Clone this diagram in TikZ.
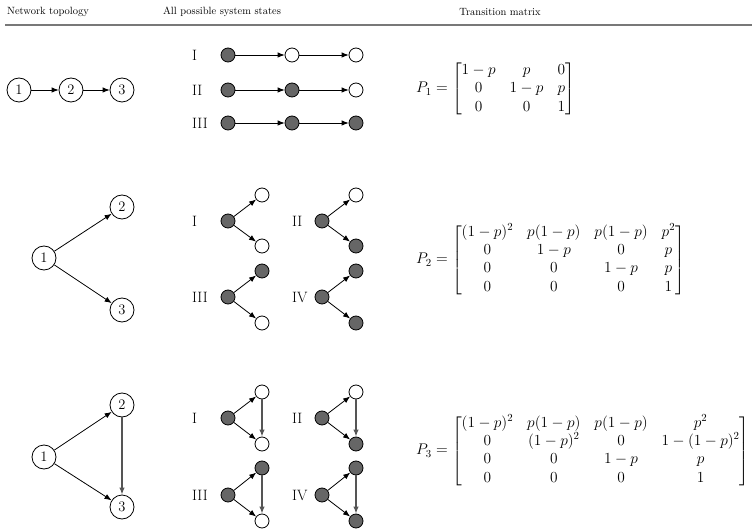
\RequirePackage{fix-cm}
\documentclass[tikz,border=0pt]{standalone}
\usepackage{amsmath}
\usetikzlibrary{arrows.meta}
\definecolor{stategray}{RGB}{102,102,102}
\definecolor{edgegray}{RGB}{85,85,85}
\definecolor{rulegray}{RGB}{120,120,120}
\setlength{\arraycolsep}{7pt}
\tikzset{
  topo/.style={circle, draw, line width=0.8pt, minimum size=24pt, inner sep=0pt, font=\fontsize{14.5}{16}\selectfont},
  st/.style={circle, draw, line width=0.8pt, minimum size=14pt, inner sep=0pt},
  on/.style={st, fill=stategray},
  off/.style={st, fill=white},
  arr/.style={-{Latex[length=7pt,width=5.5pt]}, line width=0.8pt},
  garr/.style={arr, draw=edgegray, line width=1.3pt},
  lab/.style={anchor=west, inner sep=0pt, font=\fontsize{15}{17}\selectfont},
  head/.style={font=\fontsize{10.5}{13}\selectfont},
  mat/.style={anchor=west, inner sep=0pt, font=\fontsize{15.4}{18.4}\selectfont},
}
\begin{document}
\begin{tikzpicture}[x=1pt,y=-1pt]
\useasboundingbox (0,0) rectangle (752,529);

% column headings
\node[head] (h1) at (48,12) {Network topology};
\node[head] (h2) at (222,12) {All possible system states};
\node[head] (h3) at (500,12) {Transition matrix};
\coordinate (rl) at (5,25);
\coordinate (rr) at (752,25);
\draw[rulegray, line width=1.3pt] (rl) -- (rr);

% ---------- chain 1 -> 2 -> 3 ----------
\node[topo] (a1) at (19,90) {1};
\node[topo] (a2) at (71,90) {2};
\node[topo] (a3) at (122,90) {3};
\draw[arr] (a1) -- (a2);
\draw[arr] (a2) -- (a3);

\node[lab] (la1) at (192,55) {I};
\node[on]  (s11) at (228,55) {};
\node[off] (s12) at (292,55) {};
\node[off] (s13) at (356,55) {};
\draw[arr] (s11) -- (s12);
\draw[arr] (s12) -- (s13);

\node[lab] (la2) at (192,90) {II};
\node[on]  (s21) at (228,90) {};
\node[on]  (s22) at (292,90) {};
\node[off] (s23) at (356,90) {};
\draw[arr] (s21) -- (s22);
\draw[arr] (s22) -- (s23);

\node[lab] (la3) at (192,123) {III};
\node[on] (s31) at (228,123) {};
\node[on] (s32) at (292,123) {};
\node[on] (s33) at (356,123) {};
\draw[arr] (s31) -- (s32);
\draw[arr] (s32) -- (s33);

\node[mat] (m1) at (416,89) {$P_1=\begin{bmatrix}1-p & p & 0\\ 0 & 1-p & p\\ 0 & 0 & 1\end{bmatrix}$};

% ---------- fork 1 -> 2, 1 -> 3 ----------
\node[topo] (b1) at (44,258) {1};
\node[topo] (b2) at (122,207) {2};
\node[topo] (b3) at (122,310) {3};
\draw[arr] (b1) -- (b2);
\draw[arr] (b1) -- (b3);

\node[lab] (lb1) at (192,221) {I};
\node[on]  (f1a) at (228,221) {};
\node[off] (f1b) at (262,195) {};
\node[off] (f1c) at (262,246) {};
\draw[arr] (f1a) -- (f1b);
\draw[arr] (f1a) -- (f1c);

\node[lab] (lb2) at (292,221) {II};
\node[on]  (f2a) at (322,221) {};
\node[off] (f2b) at (356,195) {};
\node[on]  (f2c) at (356,246) {};
\draw[arr] (f2a) -- (f2b);
\draw[arr] (f2a) -- (f2c);

\node[lab] (lb3) at (192,297) {III};
\node[on]  (f3a) at (228,297) {};
\node[on]  (f3b) at (262,271) {};
\node[off] (f3c) at (262,323) {};
\draw[arr] (f3a) -- (f3b);
\draw[arr] (f3a) -- (f3c);

\node[lab] (lb4) at (292,297) {IV};
\node[on] (f4a) at (322,297) {};
\node[on] (f4b) at (356,271) {};
\node[on] (f4c) at (356,323) {};
\draw[arr] (f4a) -- (f4b);
\draw[arr] (f4a) -- (f4c);

\node[mat] (m2) at (416,260) {$P_2=\begin{bmatrix}(1-p)^2 & p(1-p) & p(1-p) & p^2\\ 0 & 1-p & 0 & p\\ 0 & 0 & 1-p & p\\ 0 & 0 & 0 & 1\end{bmatrix}$};

% ---------- triangle 1 -> 2 -> 3, 1 -> 3 ----------
\node[topo] (c1) at (44,457) {1};
\node[topo] (c2) at (122,405) {2};
\node[topo] (c3) at (122,507) {3};
\draw[arr] (c1) -- (c2);
\draw[arr] (c1) -- (c3);
\draw[garr] (c2) -- (c3);

\node[lab] (lc1) at (192,418) {I};
\node[on]  (t1a) at (228,418) {};
\node[off] (t1b) at (262,392) {};
\node[off] (t1c) at (262,444) {};
\draw[arr] (t1a) -- (t1b);
\draw[arr] (t1a) -- (t1c);
\draw[garr] (t1b) -- (t1c);

\node[lab] (lc2) at (292,418) {II};
\node[on]  (t2a) at (322,418) {};
\node[off] (t2b) at (356,392) {};
\node[on]  (t2c) at (356,444) {};
\draw[arr] (t2a) -- (t2b);
\draw[arr] (t2a) -- (t2c);
\draw[garr] (t2b) -- (t2c);

\node[lab] (lc3) at (192,495) {III};
\node[on]  (t3a) at (228,495) {};
\node[on]  (t3b) at (262,468) {};
\node[off] (t3c) at (262,521) {};
\draw[arr] (t3a) -- (t3b);
\draw[arr] (t3a) -- (t3c);
\draw[garr] (t3b) -- (t3c);

\node[lab] (lc4) at (292,495) {IV};
\node[on] (t4a) at (322,495) {};
\node[on] (t4b) at (356,468) {};
\node[on] (t4c) at (356,521) {};
\draw[arr] (t4a) -- (t4b);
\draw[arr] (t4a) -- (t4c);
\draw[garr] (t4b) -- (t4c);

\node[mat] (m3) at (416,451) {$P_3=\begin{bmatrix}(1-p)^2 & p(1-p) & p(1-p) & p^2\\ 0 & (1-p)^2 & 0 & 1-(1-p)^2\\ 0 & 0 & 1-p & p\\ 0 & 0 & 0 & 1\end{bmatrix}$};
\end{tikzpicture}
\end{document}
